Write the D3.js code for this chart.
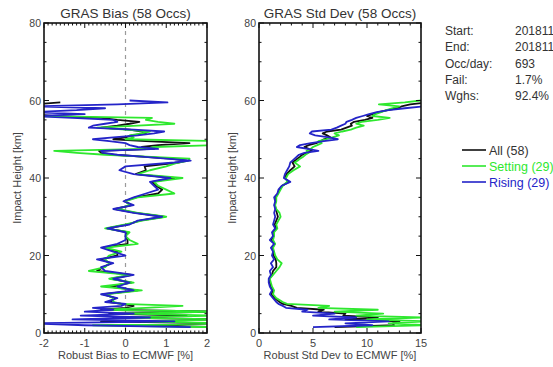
<!DOCTYPE html>
<html>
<head>
<meta charset="utf-8">
<script src="https://cdn.jsdelivr.net/npm/d3@7"></script>
<style>
  body { margin: 0; background: #fff; }
  svg text { font-family: "Liberation Sans", Arial, sans-serif; }
</style>
</head>
<body>
<div id="chart"></div>
<script>
// impact heights [km] shared by all profiles
const heights = [1.5,2,2.5,3,3.5,4,4.5,5,5.5,6,6.5,7,7.5,8,
  9,10,11,12,13,14,15,16,17,18,19,20,21,22,23,24,25,26,27,28,29,30,31,32,33,34,35,36,37,38,39,40,41,42,43,44,
  44.5,45,45.5,46,46.5,47,47.5,48,48.5,49,49.5,50,50.5,51,51.5,52,52.5,53,53.5,54,54.5,55,55.5,56,56.5,57,57.5,58,58.5,59,59.5,60];

// robust bias [%]
const biasAll = [2.3,0.3,2.3,-0.6,2.3,-0.3,1.5,-0.4,2.3,-0.6,0.0,0.2,-0.1,-0.4,
  -0.25,-0.55,0.3,-0.4,0.15,-0.35,0.15,-0.7,-0.55,-0.35,-0.6,-0.2,-0.2,-0.55,0.05,0.05,0.0,0.05,-0.45,0.05,0.35,0.95,0.25,-0.25,0.15,-0.02,0.25,0.8,0.9,0.75,0.65,1.2,0.25,0.5,0.47,1.3,
  1.5,1.1,0.4,-0.3,-0.6,-0.65,0.7,0.4,0.8,1.57,0.5,-0.3,0.0,0.15,0.5,0.4,0.1,-0.6,-0.2,0.1,0.34,-0.2,-0.6,-1.8,-2.3,-2.3,-2.3,-2.3,-2.3,-2.3,-1.6,null];
const biasSetting = [2.3,-0.8,2.3,0.4,2.3,-0.2,2.3,0.0,2.3,-0.5,0.5,1.4,-0.1,-0.3,
  -0.3,-0.5,0.4,-0.6,0.2,-0.4,0.1,-0.9,-0.5,-0.4,-0.5,-0.4,-0.1,-0.5,0.3,0.1,0.0,0.1,-0.5,0.0,0.4,1.0,0.3,-0.2,0.1,0.0,0.3,1.2,1.0,0.8,0.7,1.4,0.3,0.6,1.0,1.3,
  1.55,1.57,0.5,-0.5,-1.2,-1.75,0.5,0.7,2.3,2.3,2.3,0.0,0.2,0.1,0.4,0.6,0.0,-0.7,0.3,1.2,0.8,0.5,0.65,-2.3,-2.3,-2.3,null,null,null,null,null,null];
const biasRising = [1.6,-1.0,-2.3,1.2,-1.3,0.6,-1.1,0.2,-1.0,-0.3,-0.8,-0.1,0.0,-0.5,
  -0.2,-0.6,0.2,-0.2,0.1,-0.3,0.2,-0.5,-0.6,-0.3,-0.7,0.0,-0.3,-0.6,-0.2,0.0,0.0,0.0,-0.45,0.1,0.3,0.9,0.2,-0.3,0.2,-0.05,0.2,0.5,0.8,0.7,0.6,1.1,0.2,-0.15,0.0,1.2,
  1.6,1.0,0.4,-0.2,-0.55,-0.6,0.8,0.3,0.1,0.0,-0.4,-0.8,-0.3,0.3,0.7,0.95,0.2,-0.9,-0.8,-0.5,-0.2,-0.3,-1.3,-2.3,-1.0,-2.3,-1.2,-0.5,-2.3,-0.2,1.03,0.1];

// robust standard deviation [%]
const sdAll = [7.0,12.5,12.4,13.0,8.0,11.0,7.8,8.0,5.5,6.0,3.5,3.0,2.2,1.9,
  1.45,1.15,1.3,1.1,1.0,0.95,1.2,1.3,1.6,1.6,1.55,1.35,1.35,1.2,1.45,1.15,1.35,1.3,1.6,1.45,1.6,1.75,1.65,1.55,1.45,1.55,1.5,1.75,1.9,2.15,2.75,2.4,2.55,2.9,3.3,3.1,
  3.35,3.55,3.8,4.0,4.4,4.9,4.6,4.2,4.6,5.3,5.7,6.0,6.6,6.3,5.9,6.3,7.6,8.1,8.6,8.5,8.8,9.8,10.5,10.0,10.5,11.1,11.9,12.8,13.2,14.0,15.5,null];
const sdSetting = [9.0,15.5,12.0,15.5,10.0,15.0,9.0,11.5,7.0,11.0,5.5,6.5,2.6,2.2,
  1.6,1.3,1.4,1.2,1.1,1.0,1.3,1.6,1.9,2.1,1.7,1.5,1.4,1.3,1.5,1.3,1.4,1.4,1.7,1.6,1.8,2.0,1.9,1.6,1.5,1.6,1.6,1.8,2.0,2.2,2.6,2.5,2.7,3.2,3.8,3.3,
  3.6,3.8,4.1,4.3,4.6,4.4,4.8,5.0,5.4,5.8,5.5,6.2,6.8,7.4,7.0,7.7,8.5,9.0,9.7,9.0,9.5,11.0,12.1,10.5,10.8,11.3,11.8,12.3,13.0,11.1,13.5,15.0];
const sdRising = [5.0,10.5,8.0,12.0,6.5,9.0,5.0,7.0,4.0,4.5,2.5,2.2,1.8,1.6,
  1.3,1.0,1.2,1.0,0.9,0.9,1.1,1.0,1.3,1.1,1.4,1.2,1.3,1.1,1.4,1.0,1.3,1.2,1.5,1.3,1.4,1.5,1.4,1.5,1.4,1.5,1.4,1.7,1.8,2.1,2.9,2.3,2.4,2.6,2.8,2.9,
  3.1,3.3,3.5,3.7,4.2,5.5,4.5,3.5,3.8,4.8,6.0,7.3,6.5,5.2,4.7,4.9,6.7,7.2,7.6,8.0,8.1,8.6,9.0,9.6,10.2,10.9,12.0,13.5,15.3,null,null,null];

const statLabels = ["Start:", "End:", "Occ/day:", "Fail:", "Wghs:"];
const statValues = ["20181101", "20181101", "693", "1.7%", "92.4%"];
const seriesNames = ["All (58)", "Setting (29)", "Rising (29)"];
const seriesColors = ["#111111", "#2ee82e", "#2424c8"];

const W = 553, H = 367;
const svg = d3.select("#chart").append("svg")
  .attr("width", W).attr("height", H)
  .style("background", "#fff");

const plotTop = 23, plotBottom = 333;
const y = d3.scaleLinear().domain([0, 80]).range([plotBottom, plotTop]);

// one profile panel
function panel(id, left, right, xDomain, xMajor, xMinorStep, title, xTitle, seriesList, zeroLine) {
  const x = d3.scaleLinear().domain(xDomain).range([left, right]);
  const g = svg.append("g");

  g.append("clipPath").attr("id", id)
    .append("rect").attr("x", left).attr("y", plotTop)
    .attr("width", right - left).attr("height", plotBottom - plotTop);

  if (zeroLine) {
    g.append("line")
      .attr("x1", x(0)).attr("x2", x(0))
      .attr("y1", plotTop).attr("y2", plotBottom)
      .attr("stroke", "#9a9a9a").attr("stroke-width", 1.2)
      .attr("stroke-dasharray", "4,4");
  }

  const line = d3.line()
    .defined(d => d[0] !== null)
    .x(d => x(d[0]))
    .y(d => y(d[1]));

  const plot = g.append("g").attr("clip-path", `url(#${id})`);
  seriesList.forEach((vals, i) => {
    plot.append("path")
      .datum(vals.map((v, k) => [v, heights[k]]))
      .attr("fill", "none")
      .attr("stroke", seriesColors[i])
      .attr("stroke-width", 1.8)
      .attr("stroke-linejoin", "round")
      .attr("d", line);
  });

  // ticks pointing inward on all four sides
  const minorX = d3.range(xDomain[0], xDomain[1] + 1e-9, xMinorStep);
  const ticks = g.append("g").attr("stroke", "#111").attr("stroke-width", 1);
  minorX.forEach(v => {
    const major = xMajor.some(m => Math.abs(m - v) < 1e-6);
    const len = major ? 5 : 2.5;
    ticks.append("line").attr("x1", x(v)).attr("x2", x(v)).attr("y1", plotBottom).attr("y2", plotBottom - len);
    ticks.append("line").attr("x1", x(v)).attr("x2", x(v)).attr("y1", plotTop).attr("y2", plotTop + len);
  });
  d3.range(0, 81, 5).forEach(v => {
    const len = v % 20 === 0 ? 5 : 2.5;
    ticks.append("line").attr("x1", left).attr("x2", left + len).attr("y1", y(v)).attr("y2", y(v));
    ticks.append("line").attr("x1", right).attr("x2", right - len).attr("y1", y(v)).attr("y2", y(v));
  });

  g.append("rect")
    .attr("x", left).attr("y", plotTop)
    .attr("width", right - left).attr("height", plotBottom - plotTop)
    .attr("fill", "none").attr("stroke", "#111").attr("stroke-width", 1.6);

  g.selectAll(".xl").data(xMajor).join("text")
    .attr("x", d => x(d)).attr("y", 347)
    .attr("text-anchor", "middle")
    .attr("font-size", 11).attr("fill", "#444")
    .text(d => d);

  g.selectAll(".yl").data([0, 20, 40, 60, 80]).join("text")
    .attr("x", left - 3).attr("y", d => y(d) + 4)
    .attr("text-anchor", "end")
    .attr("font-size", 10.5).attr("fill", "#444")
    .text(d => d);

  g.append("text")
    .attr("x", (left + right) / 2).attr("y", 18)
    .attr("text-anchor", "middle")
    .attr("font-size", 13.5).attr("fill", "#333")
    .text(title);

  g.append("text")
    .attr("x", (left + right) / 2).attr("y", 359)
    .attr("text-anchor", "middle")
    .attr("font-size", 11).attr("fill", "#444")
    .text(xTitle);

  g.append("text")
    .attr("transform", `translate(${left - 23},${(plotTop + plotBottom) / 2}) rotate(-90)`)
    .attr("text-anchor", "middle")
    .attr("font-size", 11).attr("fill", "#444")
    .text("Impact Height [km]");
}

panel("clipBias", 44, 207, [-2, 2], [-2, -1, 0, 1, 2], 0.1,
  "GRAS Bias (58 Occs)", "Robust Bias to ECMWF [%]",
  [biasAll, biasSetting, biasRising], true);

panel("clipSd", 259, 421, [0, 15], [0, 5, 10, 15], 1,
  "GRAS Std Dev (58 Occs)", "Robust Std Dev to ECMWF [%]",
  [sdAll, sdSetting, sdRising], false);

// statistics block (values run off the right edge, as in the original)
const stats = svg.append("g").attr("font-size", 12).attr("fill", "#333");
statLabels.forEach((s, i) => {
  stats.append("text").attr("x", 445).attr("y", 35 + i * 16.3).text(s);
  stats.append("text").attr("x", 515).attr("y", 35 + i * 16.3).text(statValues[i]);
});

// legend
const leg = svg.append("g");
seriesNames.forEach((s, i) => {
  const yy = 150 + i * 16;
  leg.append("line")
    .attr("x1", 462).attr("x2", 486).attr("y1", yy).attr("y2", yy)
    .attr("stroke", seriesColors[i]).attr("stroke-width", 1.6);
  leg.append("text")
    .attr("x", 489).attr("y", yy + 4.5)
    .attr("font-size", 12.5)
    .attr("fill", i === 0 ? "#333" : seriesColors[i])
    .text(s);
});
</script>
</body>
</html>
